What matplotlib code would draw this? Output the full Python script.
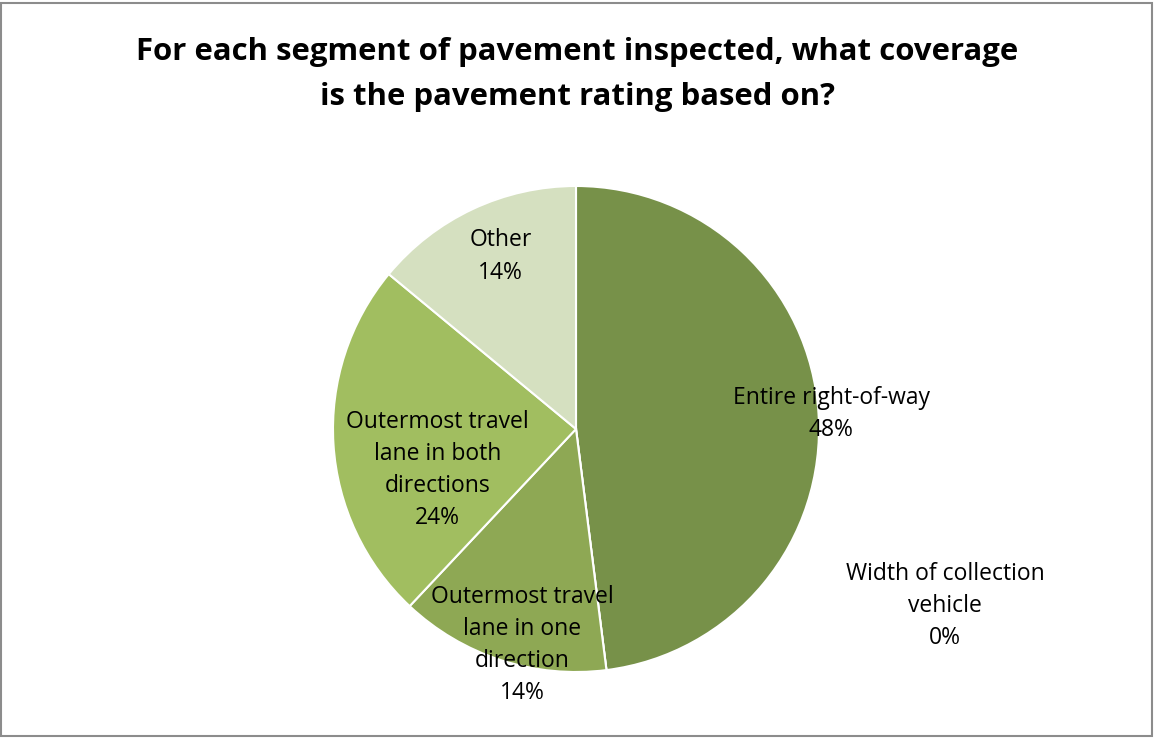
import matplotlib
matplotlib.use("Agg")
import matplotlib.pyplot as plt
from matplotlib.patches import Rectangle

# Survey answers, in drawing order (clockwise from 12 o'clock)
categories = [
    "Entire right-of-way",
    "Width of collection\nvehicle",
    "Outermost travel\nlane in one\ndirection",
    "Outermost travel\nlane in both\ndirections",
    "Other",
]
shares = [48, 0, 14, 24, 14]
colors = ["#779149", "#84a04f", "#8ea854", "#a1be60", "#d5e0c0"]

# Label centres in pie units (radius = 1)
label_pos = [(1.05, 0.06), (1.52, -0.73), (-0.22, -0.89), (-0.57, -0.17), (-0.31, 0.71)]

W, H = 1154, 738
cx, cy, R = 576, 429, 243

fig = plt.figure(figsize=(W / 100, H / 100), dpi=100)
ax = fig.add_axes([0, 0, 1, 1])

ax.pie(shares, colors=colors, startangle=90, counterclock=False, radius=1,
       wedgeprops=dict(edgecolor="white", linewidth=1.5))
ax.set_xlim(-cx / R, (W - cx) / R)
ax.set_ylim(-(H - cy) / R, cy / R)
ax.set_aspect("auto")
ax.axis("off")

for name, val, (x, y) in zip(categories, shares, label_pos):
    ax.text(x, y, f"{name}\n{val}%", ha="center", va="center",
            fontsize=16.5, family="Open Sans", linespacing=1.45, color="black")

fig.text(0.5, 0.899, "For each segment of pavement inspected, what coverage\nis the pavement rating based on?",
         ha="center", va="center", fontsize=22.4, fontweight="bold", family="Open Sans",
         linespacing=1.62)

# Outer chart frame
fig.patches.append(Rectangle((0.001, 0.003), 0.997, 0.993, transform=fig.transFigure,
                             fill=False, edgecolor="#8c8c8c", linewidth=1.5))

fig.savefig("out.png", dpi=100)
